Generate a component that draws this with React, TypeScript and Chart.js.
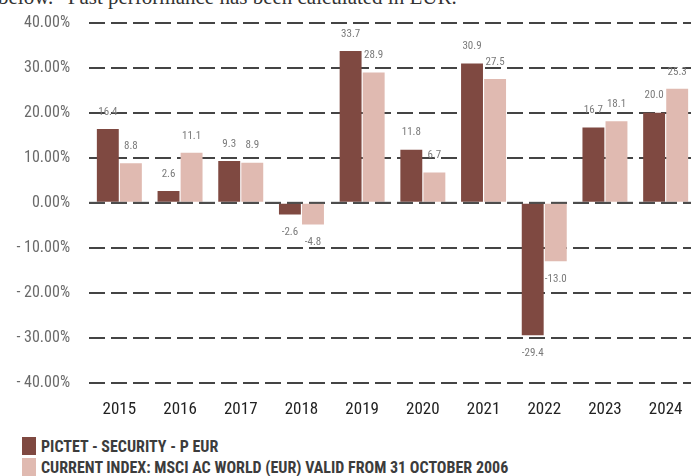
import React, { useEffect, useRef } from "react";
import { Chart, registerables } from "chart.js";

Chart.register(...registerables);

const categories = ["2015", "2016", "2017", "2018", "2019", "2020", "2021", "2022", "2023", "2024"];
const fundValues = [16.4, 2.6, 9.3, -2.6, 33.7, 11.8, 30.9, -29.4, 16.7, 20.0];
const indexValues = [8.8, 11.1, 8.9, -4.8, 28.9, 6.7, 27.5, -13.0, 18.1, 25.3];
const fundLabel = "PICTET - SECURITY - P EUR";
const indexLabel = "CURRENT INDEX: MSCI AC WORLD (EUR) VALID FROM 31 OCTOBER 2006";
const headerText = "below.\u201D Past performance has been calculated in EUR.";

const DARK = "#7f4941";
const LIGHT = "#e0bab1";
const FONT = "'Roboto Condensed', 'DejaVu Sans Condensed', sans-serif";
const DASH = [16, 6];

const valueLabels = {
  id: "valueLabels",
  afterDatasetsDraw(chart: any) {
    const ctx = chart.ctx;
    const area = chart.chartArea;
    const y0 = chart.scales.y.getPixelForValue(0);
    ctx.save();
    // zero line drawn over the bars
    ctx.strokeStyle = "rgba(80,80,80,0.75)";
    ctx.lineWidth = 2;
    ctx.setLineDash(DASH);
    ctx.beginPath();
    ctx.moveTo(area.left, y0);
    ctx.lineTo(area.right, y0);
    ctx.stroke();
    ctx.setLineDash([]);
    ctx.font = `11px ${FONT}`;
    ctx.fillStyle = "#7a7a7a";
    ctx.textAlign = "center";
    ctx.textBaseline = "middle";
    chart.data.datasets.forEach((ds: any, di: number) => {
      const meta = chart.getDatasetMeta(di);
      meta.data.forEach((bar: any, i: number) => {
        const v = ds.data[i];
        const y = v >= 0 ? bar.y - 17 : bar.y + 18;
        ctx.fillText(v.toFixed(1), bar.x, y);
      });
    });
    ctx.restore();
  },
};

export default function App() {
  const ref = useRef<HTMLCanvasElement | null>(null);
  useEffect(() => {
    document.body.style.margin = "0";
    const chart = new Chart(ref.current!, {
      type: "bar",
      data: {
        labels: categories,
        datasets: [
          { label: fundLabel, data: fundValues, backgroundColor: DARK, barPercentage: 0.95, categoryPercentage: 0.76 },
          { label: indexLabel, data: indexValues, backgroundColor: LIGHT, barPercentage: 0.95, categoryPercentage: 0.76 },
        ],
      },
      options: {
        animation: false,
        responsive: false,
        maintainAspectRatio: false,
        layout: { padding: { top: 0, right: 4, left: 0, bottom: 0 } },
        plugins: { legend: { display: false }, tooltip: { enabled: false } },
        scales: {
          x: {
            grid: { display: false },
            border: { display: false },
            ticks: { color: "#222", font: { family: FONT, size: 17 }, padding: 9 },
            afterFit: (s: any) => { s.height = 38; },
          },
          y: {
            min: -40,
            max: 40,
            border: { display: false, dash: DASH },
            grid: { color: "#444", lineWidth: 2, drawTicks: false },
            ticks: {
              stepSize: 10,
              padding: 19,
              color: "#6a6a6a",
              font: { family: FONT, size: 16 },
              callback: (v: any) => (v < 0 ? "- " + Math.abs(v).toFixed(2) + "%" : Number(v).toFixed(2) + "%"),
            },
            afterFit: (s: any) => { s.width = 89; },
          },
        },
      },
      plugins: [valueLabels],
    });
    return () => chart.destroy();
  }, []);

  const legendText: React.CSSProperties = {
    position: "absolute",
    left: 41,
    fontFamily: FONT,
    fontWeight: "bold",
    fontSize: 16,
    color: "#3c3c3c",
    lineHeight: "20px",
    whiteSpace: "nowrap",
  };

  return (
    <div style={{ position: "absolute", left: 0, top: 0, width: 691, height: 476, overflow: "hidden", background: "#fff" }}>
      <div style={{ position: "absolute", left: -2, top: -15, fontFamily: "'Liberation Serif', serif", fontSize: 21, color: "#333", whiteSpace: "nowrap" }}>
        {headerText}
      </div>
      <canvas ref={ref} width={700} height={427} style={{ position: "absolute", left: 0, top: -6, width: 700, height: 427 }} />
      <div style={{ position: "absolute", left: 22, top: 437, width: 14, height: 18, background: DARK }} />
      <div style={{ position: "absolute", left: 22, top: 458, width: 14, height: 18, background: LIGHT }} />
      <div style={{ ...legendText, top: 437 }}>{fundLabel}</div>
      <div style={{ ...legendText, top: 458 }}>{indexLabel}</div>
    </div>
  );
}
